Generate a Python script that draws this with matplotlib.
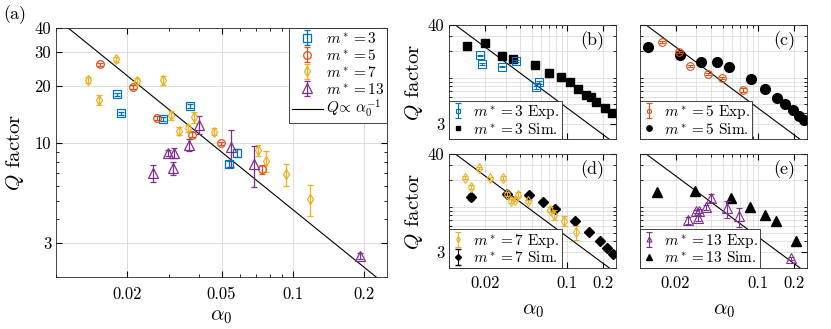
import numpy as np
import matplotlib.pyplot as plt
from matplotlib.ticker import LogLocator, NullFormatter, FixedLocator, FixedFormatter

plt.rcParams['mathtext.fontset'] = 'cm'
plt.rcParams['font.family'] = ['cmr10', 'DejaVu Serif']
plt.rcParams['axes.formatter.use_mathtext'] = True

# experimental data, Q factor vs alpha_0
alpha_m3 = [0.0181, 0.0188, 0.0282, 0.0368, 0.0538, 0.0580]
q_m3 = [18.0, 14.3, 13.4, 15.7, 7.8, 8.9]
err_m3 = [0.4, 0.3, 0.3, 0.4, 0.3, 0.4]

alpha_m5 = [0.0154, 0.0212, 0.0267, 0.0375, 0.0496, 0.0742]
q_m5 = [25.8, 19.7, 13.6, 11.1, 10.0, 7.3]
err_m5 = [0.6, 0.5, 0.3, 0.3, 0.2, 0.4]

alpha_m7 = [0.0136, 0.0152, 0.0179, 0.0219, 0.0283, 0.0307, 0.0330,
            0.0360, 0.0384, 0.0466, 0.0713, 0.0771, 0.0937, 0.1177]
q_m7 = [21.5, 16.9, 27.5, 21.2, 21.3, 14.0, 11.6, 12.0, 13.7, 11.5, 9.2, 8.1, 6.9, 5.1]
err_m7 = [0.8, 1.0, 0.8, 0.8, 1.1, 0.8, 0.6, 0.5, 0.9, 0.5, 0.6, 1.0, 0.9, 0.95]

alpha_m13 = [0.0257, 0.0297, 0.0312, 0.0316, 0.0364, 0.0403, 0.0550, 0.0689, 0.1915]
q_m13 = [6.95, 8.9, 7.4, 8.9, 9.8, 12.5, 9.6, 7.8, 2.58]
err_m13 = [0.7, 0.35, 0.6, 0.5, 0.7, 1.3, 2.1, 1.9, 0.1]

# simulations
alpha_sim3 = [0.0141, 0.0202, 0.0280, 0.0347, 0.0529, 0.0703, 0.0879,
              0.1054, 0.124, 0.143, 0.159, 0.176, 0.209, 0.239]
q_sim3 = [22.8, 24.9, 17.8, 16.5, 13.9, 11.2, 10.1, 8.98, 7.5, 6.44, 6.0, 5.26, 4.57, 3.94]

alpha_sim5 = [0.0116, 0.0218, 0.0327, 0.0449, 0.0564, 0.0867, 0.1146,
              0.144, 0.170, 0.198, 0.222, 0.247]
q_sim5 = [22.2, 18.1, 15.2, 15.1, 13.3, 9.7, 7.5, 5.9, 5.08, 4.26, 3.64, 3.27]

alpha_sim7 = [0.0153, 0.0310, 0.0476, 0.0626, 0.0787, 0.116, 0.153, 0.189, 0.218, 0.243]
q_sim7 = [13.0, 13.8, 13.5, 11.4, 9.47, 6.85, 5.13, 4.0, 3.36, 2.87]
err_sim7 = [1.0, 0.3, 0.3, 0.2, 0.3, 0.2, 0.1, 0.1, 0.1, 0.1]

alpha_sim13 = [0.0140, 0.0294, 0.0587, 0.0855, 0.114, 0.141, 0.210]
q_sim13 = [14.6, 15.2, 12.4, 9.97, 8.0, 6.9, 4.04]

q_coeff = 0.45  # Q = q_coeff / alpha_0

blue = '#0072BD'
orange = '#D95319'
yellow = '#EDB120'
purple = '#7E2F8E'

exp_sets = [
    ('3', alpha_m3, q_m3, err_m3, blue, 's'),
    ('5', alpha_m5, q_m5, err_m5, orange, 'o'),
    ('7', alpha_m7, q_m7, err_m7, yellow, 'd'),
    ('13', alpha_m13, q_m13, err_m13, purple, '^'),
]
sim_sets = [
    (alpha_sim3, q_sim3, None, 's', 6),
    (alpha_sim5, q_sim5, None, 'o', 7),
    (alpha_sim7, q_sim7, err_sim7, 'D', 5.5),
    (alpha_sim13, q_sim13, None, '^', 7),
]

fig = plt.figure(figsize=(8.31, 3.29), dpi=100)


def style_axes(ax, xmax):
    ax.set_xscale('log')
    ax.set_yscale('log')
    ax.set_xlim(0.01, xmax)
    ax.set_ylim(2, 40)
    ax.tick_params(which='both', direction='in', top=True, right=True, labelsize=12)
    ax.tick_params(which='major', length=4)
    ax.tick_params(which='minor', length=2)
    for s in ax.spines.values():
        s.set_color('#262626')
        s.set_linewidth(0.6)


def q_line(ax, xmax):
    a = np.geomspace(0.01, xmax, 50)
    return ax.plot(a, q_coeff / a, color='black', lw=0.8, zorder=1)[0]


# panel (a)
ax = fig.add_axes([0.0674, 0.158, 0.3983, 0.757])
style_axes(ax, 0.25)
ax.tick_params(axis='x', which='major', pad=7)
handles = []
for m, a, q, e, c, mk in exp_sets:
    ms = 7 if mk == '^' else 5.5
    h = ax.errorbar(a, q, yerr=e, fmt=mk, color=c, mfc='none', ms=ms, mew=0.9,
                    elinewidth=0.9, capsize=2.5, label=r'$m^*=%s$' % m)
    handles.append(h)
handles.append(q_line(ax, 0.25))
handles[-1].set_label(r'$Q\!\propto\,\alpha_0^{-1}$')
ax.xaxis.set_major_locator(FixedLocator([0.02, 0.05, 0.1, 0.2]))
ax.xaxis.set_major_formatter(FixedFormatter(['0.02', '0.05', '0.1', '0.2']))
ax.xaxis.set_minor_locator(LogLocator(subs='all'))
ax.xaxis.set_minor_formatter(NullFormatter())
ax.yaxis.set_major_locator(FixedLocator([3, 10, 20, 30, 40]))
ax.yaxis.set_major_formatter(FixedFormatter(['3', '10', '20', '30', '40']))
ax.yaxis.set_minor_locator(LogLocator(subs='all'))
ax.yaxis.set_minor_formatter(NullFormatter())
ax.grid(True, which='major', color='#dcdcdc', lw=0.7)
ax.set_axisbelow(True)
ax.set_xlabel(r'$\alpha_0$', fontsize=15, labelpad=4)
ax.set_ylabel(r'$Q$ factor', fontsize=15, labelpad=6)
leg = ax.legend(handles=handles, loc='upper right', fontsize=11, borderaxespad=0,
                fancybox=False, edgecolor='#262626', framealpha=1, handlelength=2.0,
                labelspacing=0.12, borderpad=0.2, handletextpad=0.2)
leg.get_frame().set_linewidth(0.6)
fig.text(0.004, 0.955, '(a)', fontsize=13, va='center')

# panels (b)-(e)
boxes = [[0.5407, 0.5775, 0.201, 0.3465], [0.7702, 0.5775, 0.201, 0.3465],
         [0.5407, 0.1863, 0.201, 0.3456], [0.7702, 0.1863, 0.201, 0.3456]]
letters = ['(b)', '(c)', '(d)', '(e)']
for i in range(4):
    ax = fig.add_axes(boxes[i])
    style_axes(ax, 0.26)
    m, a, q, e, c, mk = exp_sets[i]
    sa, sq, se, smk, sms = sim_sets[i]
    ms = 6.5 if mk == '^' else 5.5
    h1 = ax.errorbar(a, q, yerr=e, fmt=mk, color=c, mfc='none', ms=ms, mew=0.8,
                     elinewidth=0.8, capsize=2, label=r'$m^*=%s$ Exp.' % m, zorder=3)
    h2 = ax.errorbar(sa, sq, yerr=se, fmt=smk, color='black', ms=sms,
                     elinewidth=0.8, capsize=2, label=r'$m^*=%s$ Sim.' % m, zorder=2)
    q_line(ax, 0.26)
    ax.xaxis.set_major_locator(FixedLocator([0.02, 0.1, 0.2]))
    ax.xaxis.set_minor_locator(LogLocator(subs='all'))
    ax.xaxis.set_minor_formatter(NullFormatter())
    ax.yaxis.set_major_locator(FixedLocator([3, 40]))
    ax.yaxis.set_minor_locator(LogLocator(subs='all'))
    ax.yaxis.set_minor_formatter(NullFormatter())
    if i >= 2:
        ax.xaxis.set_major_formatter(FixedFormatter(['0.02', '0.1', '0.2']))
        ax.tick_params(axis='x', which='major', pad=6)
        ax.set_xlabel(r'$\alpha_0$', fontsize=15, labelpad=8)
    else:
        ax.xaxis.set_major_formatter(NullFormatter())
    if i % 2 == 0:
        ax.yaxis.set_major_formatter(FixedFormatter(['3', '40']))
        ax.set_ylabel(r'$Q$ factor', fontsize=15, labelpad=2)
    else:
        ax.yaxis.set_major_formatter(NullFormatter())
    ax.grid(True, which='both', color='#dcdcdc', lw=0.6)
    ax.set_axisbelow(True)
    ax.text(0.93, 0.86, letters[i], transform=ax.transAxes, fontsize=13,
            ha='right', va='center')
    leg = ax.legend(handles=[h1, h2], loc='lower left', fontsize=11, borderaxespad=0,
                    fancybox=False, edgecolor='#262626', framealpha=1,
                    handlelength=0.9, markerscale=0.55, labelspacing=0.05,
                    borderpad=0.15, handletextpad=0.5)
    leg.get_frame().set_linewidth(0.6)

fig.savefig('out.png', dpi=100)
